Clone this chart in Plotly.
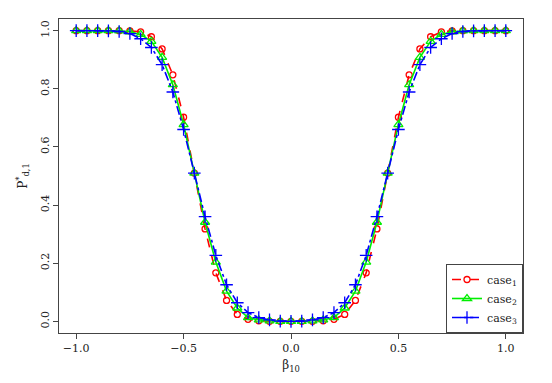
import plotly.graph_objects as go

beta10 = [-1.0, -0.95, -0.9, -0.85, -0.8, -0.75, -0.7, -0.65, -0.6, -0.55, -0.5,
          -0.45, -0.4, -0.35, -0.3, -0.25, -0.2, -0.15, -0.1, -0.05, 0.0,
          0.05, 0.1, 0.15, 0.2, 0.25, 0.3, 0.35, 0.4, 0.45, 0.5,
          0.55, 0.6, 0.65, 0.7, 0.75, 0.8, 0.85, 0.9, 0.95, 1.0]

case1 = [1.0, 1.0, 1.0, 1.0, 1.0, 0.999, 0.996, 0.979, 0.937, 0.848, 0.702,
         0.51, 0.318, 0.167, 0.072, 0.024, 0.007, 0.002, 0.0, 0.0, 0.0,
         0.0, 0.0, 0.002, 0.007, 0.024, 0.072, 0.167, 0.318, 0.51, 0.702,
         0.848, 0.937, 0.979, 0.996, 0.999, 1.0, 1.0, 1.0, 1.0, 1.0]

case2 = [1.0, 1.0, 1.0, 1.0, 0.999, 0.996, 0.987, 0.963, 0.908, 0.814, 0.677,
         0.51, 0.341, 0.204, 0.104, 0.046, 0.013, 0.005, 0.002, 0.0, 0.0,
         0.0, 0.002, 0.005, 0.013, 0.046, 0.104, 0.204, 0.341, 0.51, 0.677,
         0.814, 0.908, 0.963, 0.987, 0.996, 0.999, 1.0, 1.0, 1.0, 1.0]

case3 = [1.0, 1.0, 1.0, 0.999, 0.997, 0.99, 0.972, 0.942, 0.883, 0.789, 0.66,
         0.51, 0.36, 0.227, 0.126, 0.064, 0.03, 0.013, 0.005, 0.001, 0.0,
         0.001, 0.005, 0.013, 0.03, 0.064, 0.126, 0.227, 0.36, 0.51, 0.66,
         0.789, 0.883, 0.942, 0.972, 0.99, 0.997, 0.999, 1.0, 1.0, 1.0]

names = ["case<sub>1</sub>", "case<sub>2</sub>", "case<sub>3</sub>"]
colors = ["#FF0000", "#00EE00", "#0000FF"]
dashes = ["dash", "solid", "dashdot"]
symbols = ["circle-open", "triangle-up-open", "cross-thin-open"]
sizes = [6, 8, 9]
series = [case1, case2, case3]

fig = go.Figure()
for nm, ys, c, d, s, sz in zip(names, series, colors, dashes, symbols, sizes):
    fig.add_trace(go.Scatter(
        x=beta10, y=ys, name=nm, mode="lines+markers",
        line=dict(color=c, width=1.6, dash=d),
        marker=dict(symbol=s, size=sz, color=c, line=dict(color=c, width=1.3)),
    ))

font = "DejaVu Serif"
fig.update_layout(
    width=552, height=383,
    margin=dict(l=59, r=29, t=19, b=50, autoexpand=False),
    paper_bgcolor="white", plot_bgcolor="white",
    font=dict(family=font, size=11, color="#222"),
    showlegend=True,
    legend=dict(x=1, xanchor="right", y=0, yanchor="bottom",
                bordercolor="#444", borderwidth=1, bgcolor="white",
                font=dict(family=font, size=11, color="#222"),
                itemwidth=30, tracegroupgap=0),
    xaxis=dict(range=[-1.08, 1.08], tickvals=[-1.0, -0.5, 0.0, 0.5, 1.0],
               ticktext=["\u22121.0", "\u22120.5", "0.0", "0.5", "1.0"],
               automargin=False,
               showgrid=False, zeroline=False, showline=True, mirror=True,
               linecolor="#444", linewidth=1, ticks="outside", ticklen=5,
               tickcolor="#444", tickfont=dict(family=font, size=11),
               title=dict(text="\u03b2<sub>10</sub>", standoff=6,
                          font=dict(family=font, size=12))),
    yaxis=dict(range=[-0.04, 1.04], tickvals=[0.0, 0.2, 0.4, 0.6, 0.8, 1.0],
               ticktext=["0.0", "0.2", "0.4", "0.6", "0.8", "1.0"],
               tickangle=-90, automargin=False,
               showgrid=False, zeroline=False, showline=True, mirror=True,
               linecolor="#444", linewidth=1, ticks="outside", ticklen=5,
               tickcolor="#444", tickfont=dict(family=font, size=11),
               title=dict(text="P<sup>*</sup><sub>d,1</sub>", standoff=8,
                          font=dict(family=font, size=12))),
)

fig.write_html("out.html", config={"displayModeBar": False},
               post_script="document.body.style.margin='0px';document.body.style.padding='0px';")
